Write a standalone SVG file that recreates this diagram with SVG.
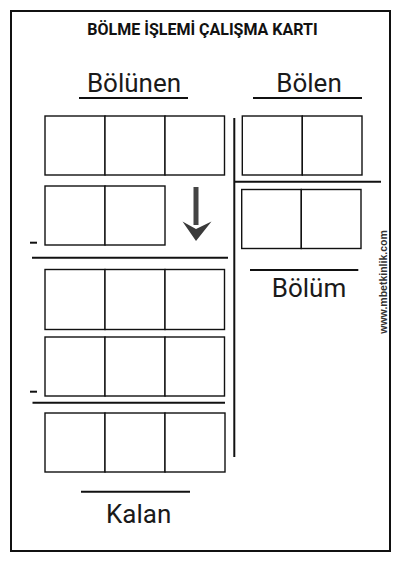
<svg xmlns="http://www.w3.org/2000/svg" width="400" height="566" viewBox="0 0 400 566">
<style>
.box{fill:#fff;stroke:#111;stroke-width:1.4}
.rule{stroke:#111;stroke-width:2;fill:none}
.lbl{font-family:Roboto,"Liberation Sans",sans-serif;font-size:26px;fill:#1a1a1a;text-anchor:middle}
.minus{stroke:#111;stroke-width:2}
</style>
<rect width="400" height="566" fill="#fff"/>
<rect x="11" y="11" width="379" height="540" fill="none" stroke="#111" stroke-width="2"/>
<text x="202.5" y="35" font-family="Roboto,'Liberation Sans',sans-serif" font-size="16" font-weight="bold" fill="#111" text-anchor="middle">BÖLME İŞLEMİ ÇALIŞMA KARTI</text>

<g id="bolunen">
<text class="lbl" x="134" y="92">Bölünen</text>
<line class="rule" x1="79" y1="98" x2="188" y2="98"/>
</g>
<g id="bolen">
<text class="lbl" x="309" y="92">Bölen</text>
<line class="rule" x1="253" y1="98" x2="362" y2="98"/>
</g>

<g id="row1">
<rect class="box" x="45" y="116" width="60" height="59"/>
<rect class="box" x="105" y="116" width="60" height="59"/>
<rect class="box" x="165" y="116" width="59.5" height="59"/>
</g>
<g id="row2">
<rect class="box" x="45" y="186" width="60" height="59"/>
<rect class="box" x="105" y="186" width="60" height="59"/>
</g>
<g id="arrow">
<rect x="193.5" y="187" width="5" height="38" fill="#444"/>
<polygon points="182.5,221.5 196,229 211.5,221.5 196,241" fill="#3a3a3a"/>
</g>
<g id="row3">
<rect class="box" x="45" y="269.5" width="60" height="60"/>
<rect class="box" x="105" y="269.5" width="60" height="60"/>
<rect class="box" x="165" y="269.5" width="59.5" height="60"/>
</g>
<g id="row4">
<rect class="box" x="45" y="337" width="60" height="59"/>
<rect class="box" x="105" y="337" width="60" height="59"/>
<rect class="box" x="165" y="337" width="59.5" height="59"/>
</g>
<g id="row5">
<rect class="box" x="45" y="413" width="60" height="59"/>
<rect class="box" x="105" y="413" width="60" height="59"/>
<rect class="box" x="165" y="413" width="60" height="59"/>
</g>

<g id="bolen-boxes">
<rect class="box" x="242.3" y="116" width="60" height="59"/>
<rect class="box" x="302.3" y="116" width="59.7" height="59"/>
</g>
<g id="bolum-boxes">
<rect class="box" x="241.7" y="189.5" width="59.6" height="59"/>
<rect class="box" x="301.3" y="189.5" width="59.7" height="59"/>
</g>

<g id="connectors">
<line class="rule" x1="234.3" y1="118" x2="234.3" y2="457"/>
<line class="rule" x1="234" y1="181.7" x2="381" y2="181.7"/>
<line class="rule" x1="32" y1="257.7" x2="228" y2="257.7"/>
<line class="rule" x1="32.5" y1="402.7" x2="225" y2="402.7" stroke-width="2.5"/>
<line class="minus" x1="30" y1="242.7" x2="37" y2="242.7"/>
<line class="minus" x1="30" y1="391.7" x2="37" y2="391.7"/>
</g>

<g id="bolum">
<line class="rule" x1="250" y1="270" x2="358.3" y2="270"/>
<text class="lbl" x="309" y="297">Bölüm</text>
</g>
<g id="kalan">
<line class="rule" x1="81" y1="491.7" x2="190" y2="491.7"/>
<text class="lbl" x="138.7" y="523">Kalan</text>
</g>

<text transform="translate(386.5,282) rotate(-90)" font-family="'Liberation Sans',Arial,sans-serif" font-size="10.5" font-weight="bold" fill="#333" text-anchor="middle">www.mbetkinlik.com</text>
</svg>
